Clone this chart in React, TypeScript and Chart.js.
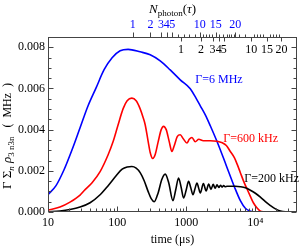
import React, { useEffect, useRef } from 'react';
import { Chart, registerables } from 'chart.js';
Chart.register(...registerables);

// ---- data (time in µs, value in MHz) ----
const blueTimes = [10, 13.06, 17.06, 22.27, 29.09, 38.0, 49.6, 64.8, 84.6, 110.5, 144.3, 215.4, 301, 420, 586, 818, 1143, 1396, 1596, 1886, 2227, 2910, 3800, 4963, 6062, 7161, 8463, 10000, 20850];
const blueValues = [0.00084, 0.00128, 0.00205, 0.00302, 0.00409, 0.00516, 0.00603, 0.00691, 0.00749, 0.00783, 0.0079, 0.00778, 0.00764, 0.00734, 0.0069, 0.00642, 0.00599, 0.00551, 0.00516, 0.00472, 0.00419, 0.00327, 0.00225, 0.00123, 0.00055, 0.00018, 0.00004, 0, 0];

const redTimes = [10, 14.9, 20.8, 29.1, 33.2, 43.4, 56.7, 74.1, 87.5, 103.4, 122.2, 139.6, 163.3, 188.5, 215.4, 238.2, 254.6, 281.3, 300.8, 327, 355.4, 392.8, 434.2, 468.8, 513, 567, 620.5, 670, 740.6, 818.5, 904.8, 1023.5, 1105, 1209, 1350, 1518, 1764, 2227, 2786, 3325, 3800, 4342, 4963, 5483, 6062, 6767, 7657, 8463, 9355, 10580, 11820, 13500];
const redValues = [0.00009, 0.00024, 0.00048, 0.00082, 0.00103, 0.00142, 0.00196, 0.00278, 0.00342, 0.00424, 0.00502, 0.0054, 0.00553, 0.0054, 0.00501, 0.00458, 0.00424, 0.00342, 0.00289, 0.0026, 0.00279, 0.00342, 0.004, 0.00416, 0.004, 0.00342, 0.00294, 0.00322, 0.00366, 0.00375, 0.00356, 0.00335, 0.00353, 0.00362, 0.00341, 0.00353, 0.00346, 0.00346, 0.00344, 0.00336, 0.00323, 0.00294, 0.00264, 0.0023, 0.00191, 0.00149, 0.00108, 0.00076, 0.00045, 0.00019, 0.00004, 0];

const blackTimes = [10, 14.9, 20.8, 29.1, 40.6, 56.7, 74.1, 96.7, 118.2, 139.6, 163.3, 188.5, 215.4, 246.2, 281.3, 311, 343.8, 392.8, 441.6, 496.3, 557.6, 641.6, 704.3, 773.5, 846.2, 914, 1000, 1080, 1162, 1250, 1337, 1429, 1507, 1596, 1770, 1940, 2110, 2280, 2450, 2620, 2790, 2960, 3130, 3300, 3470, 3640, 3900, 5130, 6062, 7161, 8463, 10000, 11820, 13960, 16500, 19490, 23030, 27220, 40000];
const blackValues = [0.00001, 0.00005, 0.00012, 0.00024, 0.00045, 0.00084, 0.00128, 0.00176, 0.00208, 0.00219, 0.00221, 0.00213, 0.00191, 0.00152, 0.00099, 0.00065, 0.0005, 0.00094, 0.00157, 0.00184, 0.00142, 0.00055, 0.00108, 0.00165, 0.00118, 0.00068, 0.00108, 0.00149, 0.00118, 0.00084, 0.00113, 0.00141, 0.00118, 0.00092, 0.00138, 0.00102, 0.00136, 0.0011, 0.00134, 0.00115, 0.00132, 0.00119, 0.0013, 0.00121, 0.00128, 0.00123, 0.00125, 0.00125, 0.00123, 0.00118, 0.00106, 0.00091, 0.00072, 0.0005, 0.00031, 0.00015, 0.00005, 0.00001, 0];

// ---- axes ----
const xMin = 10;
const xMax = 40000;
const xMajorTicks = [10, 100, 1000, 10000];
const xMajorLabels = ['10', '100', '1000', '10\u2074'];
const xMinorTicks = [20, 30, 40, 50, 60, 70, 80, 90, 200, 300, 400, 500, 600, 700, 800, 900, 2000, 3000, 4000, 5000, 6000, 7000, 8000, 9000, 20000, 30000];
const yMin = 0;
const yMax = 0.0085;
const yMajorTicks = [0, 0.002, 0.004, 0.006, 0.008];
const yMinorTicks = [0.0005, 0.001, 0.0015, 0.0025, 0.003, 0.0035, 0.0045, 0.005, 0.0055, 0.0065, 0.007, 0.0075];

// N_photon(tau) axes: tick positions in µs
const blueNTimes = [168.8, 303.8, 431.3, 521.8, 626.8, 1569, 2676, 5129];
const blueNLabels = ['1', '2', '3', '4', '5', '10', '15', '20'];
const blueNMinorTimes = [765.6, 920, 1105, 1328, 1734, 1917, 2119, 2381, 3008, 3438, 3928, 4489];
const blackNTimes = [838, 1633, 2398, 2958, 3496, 8750, 14680, 23820];
const blackNLabels = ['1', '2', '3', '4', '5', '10', '15', '20'];
const blackNMinorTimes = [4200, 4963, 5864, 7163, 9672, 10690, 11820, 13060, 16230, 17930, 19820, 21900];

const seriesLabels = ['\u0393=6 MHz', '\u0393=600 kHz', '\u0393=200 kHz'];
const seriesColors = ['#0000ff', '#ff0000', '#000000'];
const labelAnchorTimes = [1350, 3436, 6928];
const labelAnchorValues = [0.00642, 0.00353, 0.00159];

const FONT = "'Liberation Serif', 'Times New Roman', serif";

type Run = { t: string; f: string; dy: number }[];

const decorPlugin = {
  id: 'decor',
  afterDraw(chart: any) {
    const ctx = chart.ctx as CanvasRenderingContext2D;
    const { left, right, top, bottom } = chart.chartArea;
    const xs = chart.scales.x;
    const ys = chart.scales.y;
    ctx.save();
    ctx.strokeStyle = '#444';
    ctx.lineWidth = 1;
    const L = Math.round(left) + 0.5;
    const R = Math.round(right) - 0.5;
    const T = Math.round(top) + 0.5;
    const B = Math.round(bottom) - 0.5;
    ctx.strokeRect(L, T, R - L, B - T);
    ctx.beginPath();
    const vline = (x: number, y0: number, y1: number) => {
      const px = Math.round(x) + 0.5;
      ctx.moveTo(px, y0);
      ctx.lineTo(px, y1);
    };
    const hline = (y: number, x0: number, x1: number) => {
      const py = Math.round(y) + 0.5;
      ctx.moveTo(x0, py);
      ctx.lineTo(x1, py);
    };
    xMajorTicks.forEach((v) => vline(xs.getPixelForValue(v), B, B - 5));
    xMinorTicks.forEach((v) => vline(xs.getPixelForValue(v), B, B - 3));
    yMajorTicks.forEach((v) => {
      const p = ys.getPixelForValue(v);
      hline(p, L, L + 5);
      hline(p, R, R - 5);
    });
    yMinorTicks.forEach((v) => {
      const p = ys.getPixelForValue(v);
      hline(p, L, L + 3);
      hline(p, R, R - 3);
    });
    blueNTimes.forEach((v) => vline(xs.getPixelForValue(v), T, T - 5));
    blueNMinorTimes.forEach((v) => vline(xs.getPixelForValue(v), T, T - 3));
    blackNTimes.forEach((v) => vline(xs.getPixelForValue(v), T, T + 4));
    blackNMinorTimes.forEach((v) => vline(xs.getPixelForValue(v), T, T - 3));
    ctx.stroke();

    // inner black N labels
    ctx.fillStyle = '#000';
    ctx.font = `12px ${FONT}`;
    ctx.textAlign = 'center';
    ctx.textBaseline = 'top';
    blackNTimes.forEach((v, i) => ctx.fillText(blackNLabels[i], xs.getPixelForValue(v), T + 6));

    // series labels
    ctx.textAlign = 'left';
    ctx.textBaseline = 'middle';
    seriesLabels.forEach((s, i) => {
      ctx.fillStyle = seriesColors[i];
      ctx.fillText(s, xs.getPixelForValue(labelAnchorTimes[i]), ys.getPixelForValue(labelAnchorValues[i]));
    });

    ctx.fillStyle = '#000';
    ctx.textBaseline = 'alphabetic';
    const drawRun = (parts: Run, x0: number, y0: number) => {
      let x = x0;
      parts.forEach((p) => {
        ctx.font = p.f;
        ctx.fillText(p.t, x, y0 + p.dy);
        x += ctx.measureText(p.t).width;
      });
    };
    const measureRun = (parts: Run) => {
      let w = 0;
      parts.forEach((p) => {
        ctx.font = p.f;
        w += ctx.measureText(p.t).width;
      });
      return w;
    };
    // top title N_photon(τ)
    const titleParts: Run = [
      { t: 'N', f: `italic 13px ${FONT}`, dy: 0 },
      { t: 'photon', f: `9px ${FONT}`, dy: 3 },
      { t: '(', f: `13px ${FONT}`, dy: 0 },
      { t: '\u03c4', f: `italic 13px ${FONT}`, dy: 0 },
      { t: ')', f: `13px ${FONT}`, dy: 0 },
    ];
    const tw = measureRun(titleParts);
    drawRun(titleParts, (left + right) / 2 - tw / 2, 13);

    // y title
    const yParts: Run = [
      { t: '\u0393 \u03a3', f: `13px ${FONT}`, dy: 0 },
      { t: 'n', f: `italic 9px ${FONT}`, dy: 3 },
      { t: ' ', f: `13px ${FONT}`, dy: 0 },
      { t: '\u03c1', f: `italic 13px ${FONT}`, dy: 0 },
      { t: '3 n3n', f: `9px ${FONT}`, dy: 3 },
      { t: '   (  MHz  )', f: `12px ${FONT}`, dy: 0 },
    ];
    const yw = measureRun(yParts);
    ctx.save();
    ctx.translate(11, 136);
    ctx.rotate(-Math.PI / 2);
    drawRun(yParts, -yw / 2, 0);
    ctx.restore();

    // x title
    ctx.font = `12px ${FONT}`;
    ctx.textAlign = 'center';
    ctx.textBaseline = 'alphabetic';
    ctx.fillText('time (\u03bcs)', (left + right) / 2, 243);
    ctx.restore();
  },
};

function toPoints(ts: number[], vs: number[]) {
  return ts.map((t, i) => ({ x: t, y: vs[i] }));
}

export default function App() {
  const ref = useRef<HTMLCanvasElement | null>(null);
  useEffect(() => {
    if (!ref.current) return;
    const font = { family: FONT, size: 12 };
    const lineDs = (ts: number[], vs: number[], color: string) => ({
      data: toPoints(ts, vs),
      borderColor: color,
      borderWidth: 1.6,
      pointRadius: 0,
      fill: false,
      cubicInterpolationMode: 'monotone' as const,
      xAxisID: 'x',
      yAxisID: 'y',
    });
    const chart = new Chart(ref.current, {
      type: 'line',
      data: {
        datasets: [
          lineDs(blackTimes, blackValues, seriesColors[2]),
          lineDs(redTimes, redValues, seriesColors[1]),
          lineDs(blueTimes, blueValues, seriesColors[0]),
        ],
      },
      options: {
        animation: false,
        responsive: false,
        devicePixelRatio: 1,
        layout: { padding: 0 },
        plugins: { legend: { display: false }, tooltip: { enabled: false } },
        scales: {
          x: {
            type: 'logarithmic',
            position: 'bottom',
            min: xMin,
            max: xMax,
            afterBuildTicks: (s: any) => {
              s.ticks = xMajorTicks.map((v) => ({ value: v }));
            },
            ticks: {
              callback: (_v: any, i: number) => xMajorLabels[i],
              font,
              color: '#000',
              padding: 4,
              autoSkip: false,
              maxRotation: 0,
            },
            grid: { display: false, drawTicks: false },
            border: { display: false },
            afterFit: (s: any) => {
              s.height = 37;
            },
          },
          xTop: {
            type: 'logarithmic',
            position: 'top',
            min: xMin,
            max: xMax,
            afterBuildTicks: (s: any) => {
              s.ticks = blueNTimes.map((v) => ({ value: v }));
            },
            ticks: {
              callback: (_v: any, i: number) => blueNLabels[i],
              font,
              color: '#0000ff',
              padding: 5,
              autoSkip: false,
              maxRotation: 0,
            },
            grid: { display: false, drawTicks: false },
            border: { display: false },
            afterFit: (s: any) => {
              s.height = 37;
            },
          },
          y: {
            type: 'linear',
            position: 'left',
            min: yMin,
            max: yMax,
            afterBuildTicks: (s: any) => {
              s.ticks = yMajorTicks.map((v) => ({ value: v }));
            },
            ticks: {
              callback: (v: any) => Number(v).toFixed(3),
              font,
              color: '#000',
              padding: 3,
              autoSkip: false,
            },
            grid: { display: false, drawTicks: false },
            border: { display: false },
            afterFit: (s: any) => {
              s.width = 48;
            },
          },
          yRight: {
            type: 'linear',
            position: 'right',
            min: yMin,
            max: yMax,
            ticks: { display: false },
            grid: { display: false, drawTicks: false },
            border: { display: false },
            afterFit: (s: any) => {
              s.width = 2;
            },
          },
        },
      } as any,
      plugins: [decorPlugin],
    });
    return () => chart.destroy();
  }, []);
  return (
    <div style={{ position: 'absolute', left: 0, top: 0, width: 299, height: 249 }}>
      <canvas ref={ref} width={299} height={249} style={{ display: 'block', width: 299, height: 249 }} />
    </div>
  );
}
